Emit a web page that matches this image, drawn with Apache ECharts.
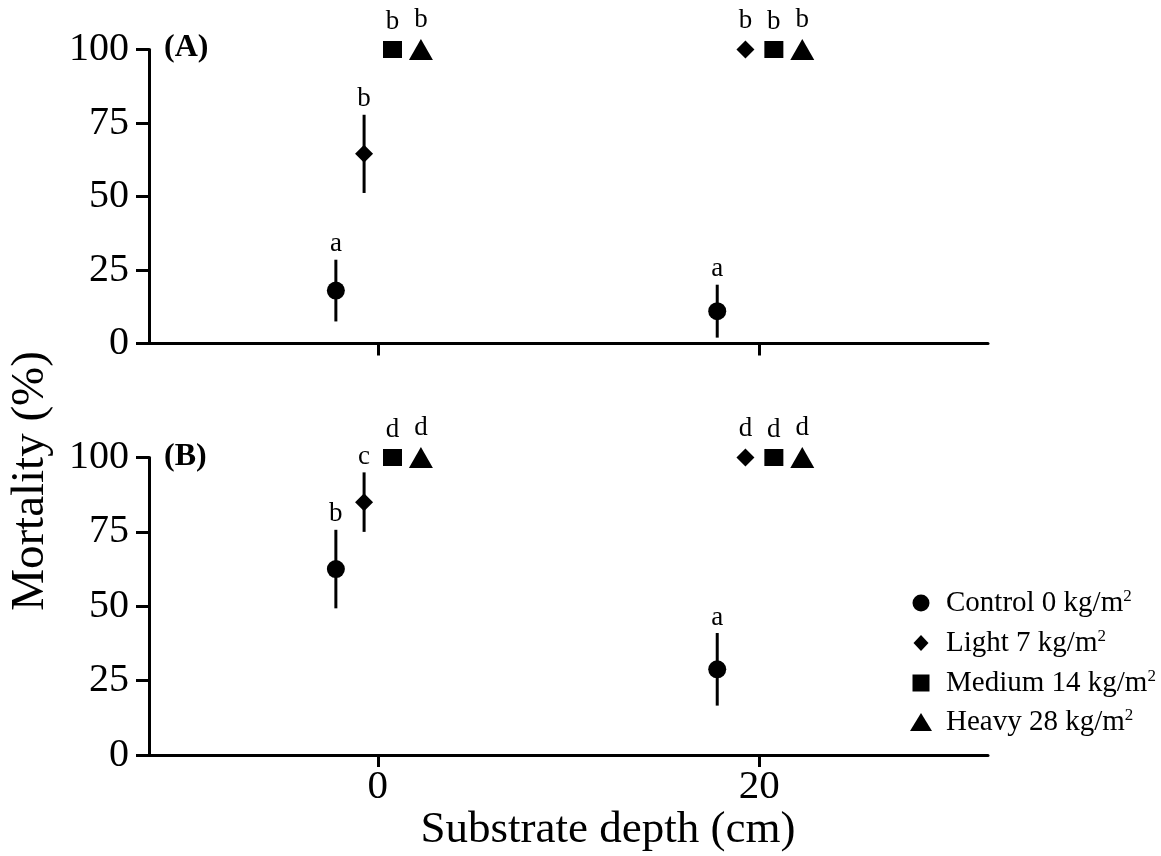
<!DOCTYPE html>
<html><head><meta charset="utf-8">
<script src="https://cdn.jsdelivr.net/npm/echarts@6/dist/echarts.min.js"></script>
<style>html,body{margin:0;padding:0;background:#fff}#c{width:1161px;height:856px}</style>
</head><body><div id="c"></div>
<script>
// ---- data ----
const depths = [0, 20];                       // substrate depth (cm)
const treatments = ['Control 0 kg/m2', 'Light 7 kg/m2', 'Medium 14 kg/m2', 'Heavy 28 kg/m2'];
const dodge = [-2.2, -0.72, 0.77, 2.26];      // horizontal dodge of each treatment (cm units)
const xTicks = [0, 20];
const yTicks = [0, 25, 50, 75, 100];
// Panel A : rows = treatments, columns = depths
const meanA = [[18, 11], [64.5, 100], [100, 100], [100, 100]];
const errA  = [[10.5, 9], [13.3, 0], [0, 0], [0, 0]];
const lettersA = [['a', 'a'], ['b', 'b'], ['b', 'b'], ['b', 'b']];
// Panel B
const meanB = [[62.5, 28.8], [85, 100], [100, 100], [100, 100]];
const errB  = [[13.2, 12.2], [10, 0], [0, 0], [0, 0]];
const lettersB = [['b', 'a'], ['c', 'd'], ['d', 'd'], ['d', 'd']];
const panelLabels = ['(A)', '(B)'];

// ---- styles ----
const FONT = '"Liberation Serif", "Times New Roman", serif';
const symbols = ['circle', 'diamond', 'rect', 'triangle'];
const symSizes = [18, [18, 18], [19, 17], [24, 21]];
const symH = [18, 18, 17, 21];
const legendSizes = [[17, 17], [15, 16], [17, 17], [22, 18]];

const chart = echarts.init(document.getElementById('c'), null, {renderer: 'canvas'});

const grids = [
  {left: 149, top: 49.5, width: 839, height: 294},
  {left: 149, top: 457.5, width: 839, height: 297.5}
];

function xAxis(i) {
  return {
    gridIndex: i, type: 'value', min: -12, max: 32,
    axisLine: {show: true, onZero: false, lineStyle: {color: '#000', width: 3}},
    axisTick: {show: true, customValues: xTicks, length: 12, lineStyle: {color: '#000', width: 3}},
    axisLabel: {show: i === 1, customValues: xTicks, fontSize: 41, fontFamily: FONT, color: '#000', margin: 12},
    splitLine: {show: false}
  };
}
function yAxis(i) {
  return {
    gridIndex: i, type: 'value', min: 0, max: 100, interval: 25,
    axisLine: {show: true, onZero: false, lineStyle: {color: '#000', width: 3}},
    axisTick: {show: true, length: 13, lineStyle: {color: '#000', width: 3}},
    axisLabel: {fontSize: 40, fontFamily: FONT, color: '#000', margin: 20},
    splitLine: {show: false}
  };
}

const series = [];
[[meanA, errA, lettersA], [meanB, errB, lettersB]].forEach(([mean, err, letters], p) => {
  treatments.forEach((name, ti) => {
    const pts = depths.map((d, j) => [d + dodge[ti], mean[ti][j], err[ti][j]]);
    series.push({
      type: 'custom', name: name, xAxisIndex: p, yAxisIndex: p, z: 2, clip: false,
      data: pts,
      renderItem: function (params, api) {
        const x = api.value(0), m = api.value(1), e = api.value(2);
        const c = api.coord([x, m]);
        const children = [];
        let ty;
        if (e > 0) {
          const t = api.coord([x, m + e]);
          const b = api.coord([x, m - e]);
          children.push({type: 'line', shape: {x1: t[0], y1: t[1], x2: b[0], y2: b[1]},
            style: {stroke: '#000', lineWidth: 3}});
          ty = t[1] - 2;
        } else {
          ty = c[1] - symH[ti] / 2 - 6;
        }
        children.push({type: 'text', x: c[0], y: ty,
          style: {text: letters[ti][params.dataIndex], font: '27px ' + FONT, fill: '#000',
                  align: 'center', verticalAlign: 'bottom'}});
        return {type: 'group', children: children};
      }
    });
    series.push({
      type: 'scatter', name: name, xAxisIndex: p, yAxisIndex: p, z: 3, clip: false,
      symbol: symbols[ti], symbolSize: symSizes[ti],
      itemStyle: {color: '#000', opacity: 1},
      data: pts.map(q => [q[0], q[1]])
    });
  });
});

const legendRows = [603, 643, 683, 722];
const legends = treatments.map((name, ti) => {
  const w = legendSizes[ti][0], h = legendSizes[ti][1];
  const left = 921 - w / 2;
  return {
    data: [{name: name, icon: symbols[ti], itemStyle: {color: '#000', opacity: 1}}],
    left: left, top: legendRows[ti] - 15, padding: 0,
    itemWidth: w, itemHeight: h, orient: 'vertical',
    formatter: n => n.replace(/2$/, '{sup|2}'),
    textStyle: {fontFamily: FONT, fontSize: 29, color: '#000', lineHeight: 30,
      padding: [0, 0, 0, 946 - (left + w + 5)],
      rich: {sup: {fontFamily: FONT, fontSize: 17, color: '#000', verticalAlign: 'top', lineHeight: 14}}}
  };
});

chart.setOption({
  animation: false,
  backgroundColor: '#fff',
  grid: grids,
  xAxis: [xAxis(0), xAxis(1)],
  yAxis: [yAxis(0), yAxis(1)],
  legend: legends,
  series: series,
  graphic: [
    {type: 'text', left: 164, top: 32, style: {text: panelLabels[0], font: 'bold 32px ' + FONT, fill: '#000'}},
    {type: 'text', left: 164, top: 441, style: {text: panelLabels[1], font: 'bold 32px ' + FONT, fill: '#000'}},
    {type: 'text', x: 608, y: 830, style: {text: 'Substrate depth (cm)', font: '45px ' + FONT, fill: '#000',
      align: 'center', verticalAlign: 'middle'}},
    {type: 'text', x: 31, y: 481, rotation: Math.PI / 2,
      style: {text: 'Mortality (%)', font: '47px ' + FONT, fill: '#000', align: 'center', verticalAlign: 'middle'}}
  ]
});
</script>
</body></html>
